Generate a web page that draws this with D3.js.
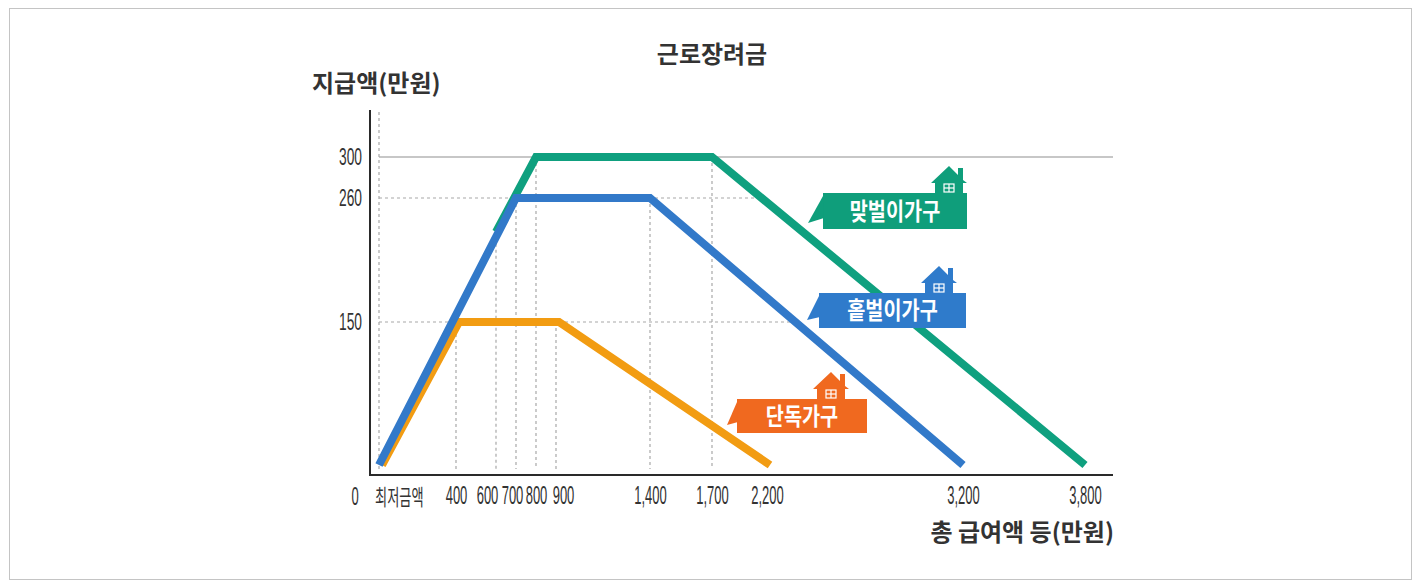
<!DOCTYPE html>
<html>
<head>
<meta charset="utf-8">
<script src="https://cdn.jsdelivr.net/npm/d3@7"></script>
<style>
body { margin: 0; background: #fff; }
text { font-family: "Noto Sans CJK KR", "Noto Sans", sans-serif; }
</style>
</head>
<body>
<svg id="chart" width="1421" height="587"></svg>
<script>
// tick values
var xTicks = [400, 600, 700, 800, 900, 1400, 1700, 2200, 3200, 3800];
var yTicks = [150, 260, 300];
var seriesNames = ["단독가구", "홑벌이가구", "맞벌이가구"];

// series: 총 급여액 (x) / 지급액 (y), 만원
var singleX = [0, 400, 900, 2200];
var singleY = [0, 150, 150, 0];
var oneX = [0, 700, 1400, 3200];
var oneY = [0, 260, 260, 0];
var twoX = [600, 800, 1700, 3800];
var twoY = [230, 300, 300, 0];

var svg = d3.select("#chart");

// frame
svg.append("rect").attr("x", 9.5).attr("y", 8.5).attr("width", 1402).attr("height", 571)
  .attr("fill", "none").attr("stroke", "#c4c4c4");

// the drawing is schematic, so the scales are piecewise
var x = d3.scaleLinear().domain([0].concat(xTicks))
  .range([379, 456, 496, 516, 536, 556, 650, 712, 767, 963, 1085]);
var y = d3.scaleLinear().domain([0].concat(yTicks))
  .range([465, 322, 198, 157]);

function pts(xs, ys) { return xs.map(function(d, i) { return [d, ys[i]]; }); }
var single = pts(singleX, singleY), one = pts(oneX, oneY), two = pts(twoX, twoY);

// x position (pixels) where the falling part of a series meets level v
function crossX(p, v) {
  var a = p[p.length - 2], b = p[p.length - 1];
  var ya = y(a[1]), yb = y(b[1]);
  return x(a[0]) + (x(b[0]) - x(a[0])) * (y(v) - ya) / (yb - ya);
}

var guide = svg.append("g").attr("stroke", "#a8a8a8").attr("stroke-width", 1.2).attr("fill", "none");
var dash = "3,3";

// horizontal guides
guide.append("line").attr("x1", x(0)).attr("x2", 1113).attr("y1", y(300)).attr("y2", y(300))
  .attr("stroke-width", 1.5).attr("stroke", "#b4b4b4");
guide.append("line").attr("x1", x(0)).attr("x2", crossX(two, 260)).attr("y1", y(260)).attr("y2", y(260))
  .attr("stroke-dasharray", dash);
guide.append("line").attr("x1", x(0)).attr("x2", crossX(one, 150)).attr("y1", y(150)).attr("y2", y(150))
  .attr("stroke-dasharray", dash);

// vertical guides: 최저금액 line + one from every raised corner
guide.append("line").attr("x1", x(0)).attr("x2", x(0)).attr("y1", 112).attr("y2", y(0) + 4)
  .attr("stroke-dasharray", dash);
single.concat(one, two).filter(function(d) { return d[1] > 0; }).forEach(function(d) {
  guide.append("line").attr("x1", x(d[0])).attr("x2", x(d[0]))
    .attr("y1", y(d[1])).attr("y2", y(0) + 4).attr("stroke-dasharray", dash);
});

// axes lines
svg.append("line").attr("x1", 370).attr("x2", 370).attr("y1", 110).attr("y2", 476)
  .attr("stroke", "#2a2a2a").attr("stroke-width", 2);
svg.append("line").attr("x1", 369).attr("x2", 1113).attr("y1", 475).attr("y2", 475)
  .attr("stroke", "#2a2a2a").attr("stroke-width", 2);

// tick labels
var nudge = { 600: -9, 700: -4, 900: 7 };
var xAxis = svg.append("g").attr("transform", "translate(0,486)")
  .call(d3.axisBottom(x).tickValues(xTicks).tickSize(0).tickPadding(0).tickFormat(d3.format(",")));
xAxis.select(".domain").remove();
xAxis.selectAll("text")
  .attr("transform", function(d) { return "translate(" + (nudge[d] || 0) + ",0) scale(0.5,1)"; })
  .style("font-family", "'Liberation Sans', Arial, sans-serif")
  .style("font-size", "26px").attr("fill", "#333");

var yAxis = svg.append("g").attr("transform", "translate(362,0)")
  .call(d3.axisLeft(y).tickValues(yTicks).tickSize(0).tickPadding(0));
yAxis.select(".domain").remove();
yAxis.selectAll("text")
  .attr("transform", "scale(0.6,1)")
  .style("font-family", "'Liberation Sans', Arial, sans-serif")
  .style("font-size", "23px").attr("fill", "#333");

svg.append("text").attr("transform", "translate(355,505) scale(0.5,1)")
  .attr("text-anchor", "middle").style("font-family", "'Liberation Sans', Arial, sans-serif")
  .style("font-size", "26px").attr("fill", "#333").text("0");
svg.append("text").attr("transform", "translate(375,505) scale(0.6,1)")
  .style("font-size", "22px").attr("fill", "#333").text("최저금액");

// titles
svg.append("text").attr("x", 712).attr("y", 63).attr("text-anchor", "middle")
  .style("font-size", "24px").style("font-weight", "bold").attr("fill", "#333").text("근로장려금");
svg.append("text").attr("x", 312).attr("y", 92)
  .style("font-size", "24px").style("font-weight", "bold").attr("fill", "#333").text("지급액(만원)");
svg.append("text").attr("x", 1114).attr("y", 541).attr("text-anchor", "end")
  .style("font-size", "24px").style("font-weight", "bold").attr("fill", "#333").text("총 급여액 등(만원)");

// series lines
var line = d3.line().x(function(d) { return x(d[0]); }).y(function(d) { return y(d[1]); });
var lines = [
  { p: single, color: "#f29c12", shift: 3 },
  { p: two, color: "#0fa07f", shift: 0 },
  { p: one, color: "#3279c9", shift: 0 }
];
lines.forEach(function(s) {
  svg.append("path").attr("d", line(s.p))
    .attr("transform", "translate(" + s.shift + ",0)")
    .attr("fill", "none").attr("stroke", s.color).attr("stroke-width", 8)
    .attr("stroke-linejoin", "miter").attr("stroke-linecap", "butt");
});

// callouts
var callouts = [
  { text: seriesNames[2], color: "#0f9e7b", x: 823, y: 193, w: 144, h: 36, hx: 949, tip: [-15, 30] },
  { text: seriesNames[1], color: "#2f7bcb", x: 819, y: 293, w: 147, h: 35, hx: 939, tip: [-12, 27] },
  { text: seriesNames[0], color: "#f0691f", x: 737, y: 399, w: 130, h: 34, hx: 831, tip: [-10, 26] }
];
callouts.forEach(function(c) {
  var g = svg.append("g").attr("fill", c.color);
  g.append("rect").attr("x", c.x).attr("y", c.y).attr("width", c.w).attr("height", c.h);
  g.append("path").attr("d", "M" + c.x + "," + (c.y + 3) + "L" + (c.x + c.tip[0]) + "," + (c.y + c.tip[1]) +
    "L" + (c.x + 1) + "," + (c.y + c.h - 11) + "Z");
  // house
  var T = c.y, X = c.hx;
  g.append("path").attr("d",
    "M" + (X - 14) + "," + (T + 1) + "V" + (T - 10) + "H" + (X - 18) + "L" + X + "," + (T - 27) +
    "L" + (X + 9) + "," + (T - 18) + "V" + (T - 25) + "H" + (X + 14) + "V" + (T - 13) +
    "L" + (X + 18) + "," + (T - 10) + "H" + (X + 14) + "V" + (T + 1) + "Z");
  var w = svg.append("g").attr("stroke", "#fff").attr("stroke-width", 1.2).attr("fill", "none");
  w.append("rect").attr("x", X - 5).attr("y", T - 9).attr("width", 10).attr("height", 8);
  w.append("line").attr("x1", X).attr("x2", X).attr("y1", T - 9).attr("y2", T - 1);
  w.append("line").attr("x1", X - 5).attr("x2", X + 5).attr("y1", T - 5).attr("y2", T - 5);
  svg.append("text")
    .attr("transform", "translate(" + (c.x + c.w / 2) + "," + (c.y + c.h / 2) + ") scale(0.82,1)")
    .attr("dy", "0.36em").attr("text-anchor", "middle")
    .style("font-size", "24px").style("font-weight", "bold")
    .attr("fill", "#fff").text(c.text);
});
</script>
</body>
</html>
